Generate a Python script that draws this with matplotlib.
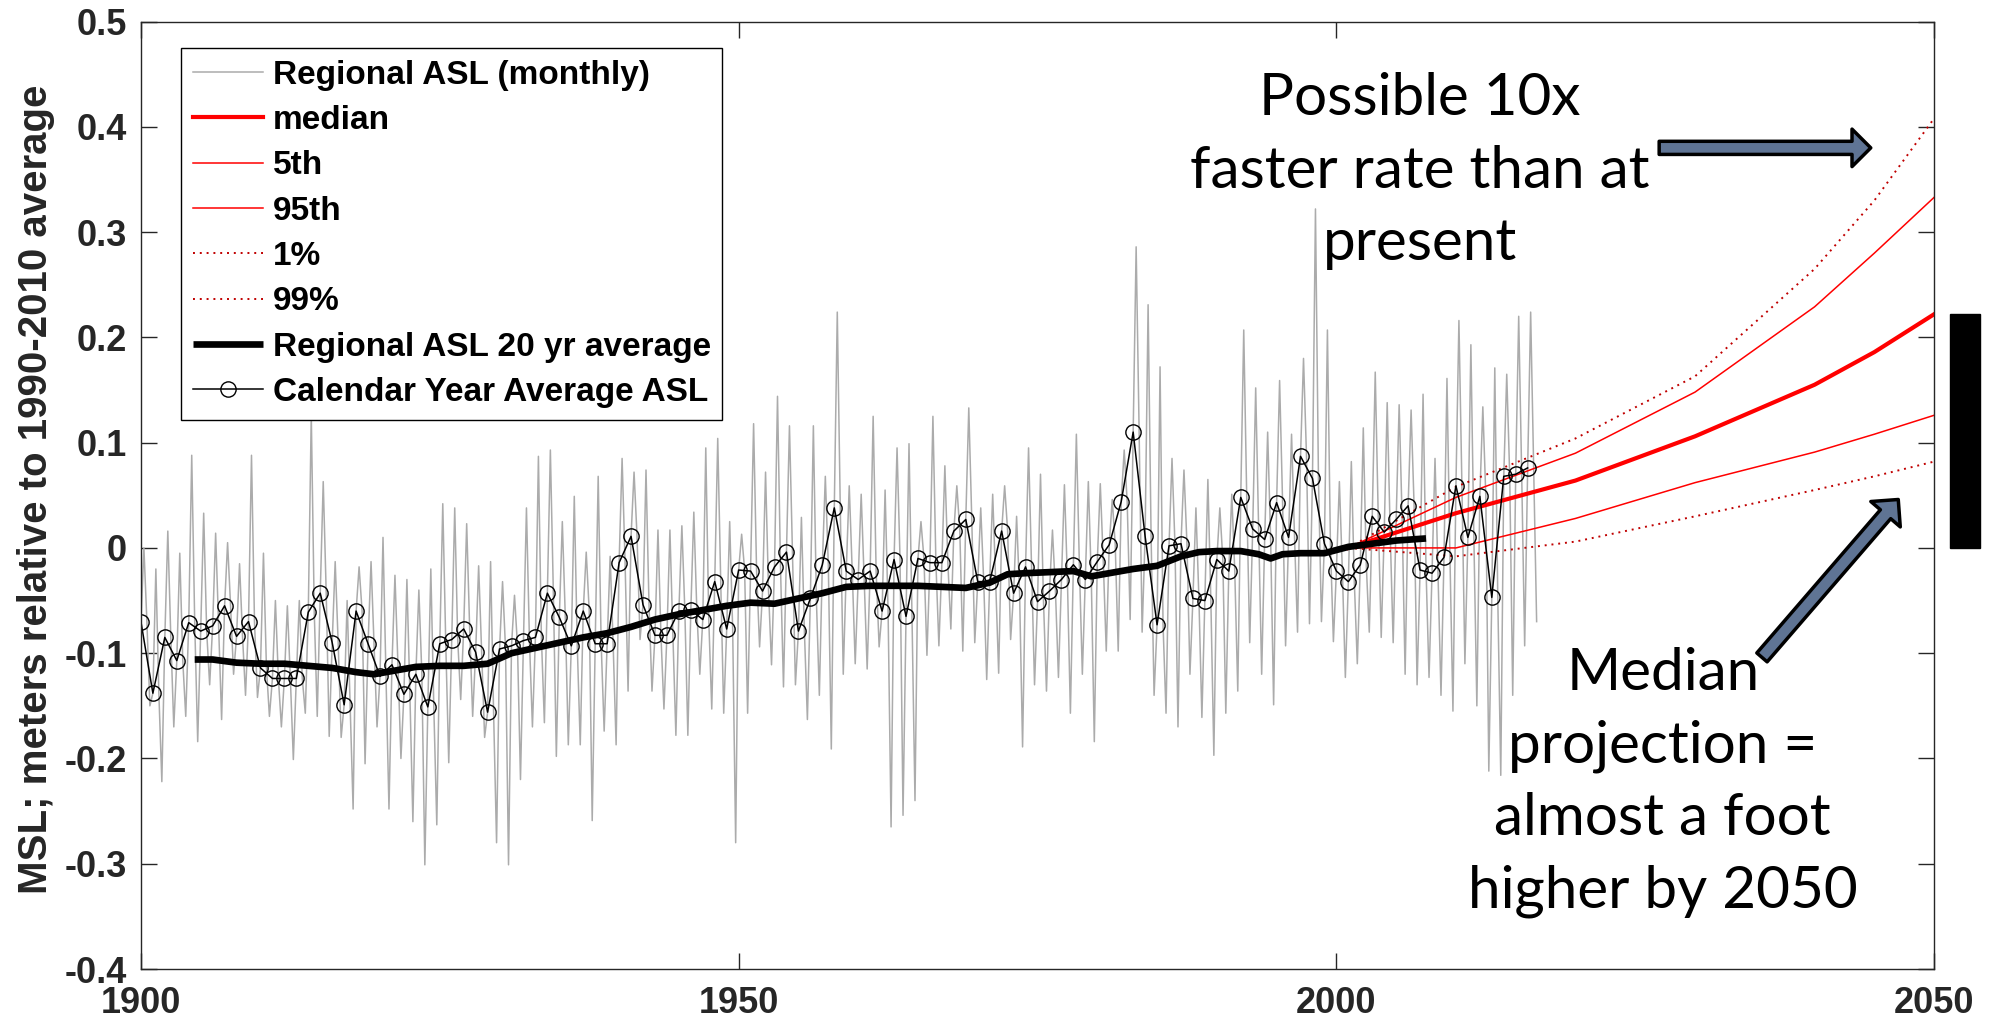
import numpy as np
import matplotlib
matplotlib.use('Agg')
from matplotlib import pyplot as plt
from matplotlib.patches import FancyArrowPatch, Rectangle, ArrowStyle

# calendar-year average sea level (m, relative to 1990-2010 average)
annual_years = list(range(1900, 2017))
annual_asl = [
    -0.070, -0.138, -0.085, -0.107, -0.071, -0.079, -0.074, -0.055, -0.084, -0.070,
    -0.114, -0.124, -0.124, -0.124, -0.061, -0.043, -0.090, -0.149, -0.060, -0.091,
    -0.122, -0.111, -0.139, -0.120, -0.151, -0.091, -0.087, -0.077, -0.099, -0.156,
    -0.096, -0.093, -0.088, -0.085, -0.043, -0.066, -0.093, -0.060, -0.091, -0.091,
    -0.014, 0.011, -0.054, -0.083, -0.083, -0.060, -0.059, -0.068, -0.032, -0.077,
    -0.021, -0.022, -0.041, -0.018, -0.004, -0.079, -0.048, -0.016, 0.038, -0.022,
    -0.030, -0.022, -0.060, -0.011, -0.065, -0.010, -0.014, -0.014, 0.016, 0.027,
    -0.032, -0.032, 0.016, -0.043, -0.018, -0.051, -0.041, -0.030, -0.016, -0.030,
    -0.013, 0.003, 0.044, 0.110, 0.011, -0.073, 0.002, 0.004, -0.048, -0.050,
    -0.011, -0.022, 0.048, 0.018, 0.008, 0.043, 0.010, 0.087, 0.066, 0.004,
    -0.022, -0.032, -0.016, 0.030, 0.015, 0.027, 0.040, -0.021, -0.024, -0.009,
    0.059, 0.010, 0.049, -0.047, 0.068, 0.070, 0.076]

# highest / lowest monthly value in each calendar year
monthly_high = [
    0.000, -0.020, 0.016, -0.005, 0.088, 0.033, 0.014, 0.005, -0.015, 0.088,
    -0.005, -0.050, -0.055, -0.050, 0.127, 0.063, -0.013, -0.050, -0.018, -0.013,
    0.010, -0.026, -0.030, -0.040, -0.020, 0.042, 0.038, 0.023, -0.017, -0.013,
    -0.032, -0.045, 0.038, 0.087, 0.093, 0.025, 0.049, -0.004, 0.068, -0.008,
    0.085, 0.072, 0.074, 0.017, 0.017, 0.021, 0.034, 0.095, 0.104, 0.025,
    0.013, 0.118, 0.072, 0.144, 0.116, 0.029, 0.116, 0.068, 0.224, 0.059,
    0.051, 0.125, 0.055, 0.095, 0.099, 0.025, 0.125, 0.078, 0.059, 0.133,
    0.038, 0.051, 0.059, 0.030, 0.095, 0.070, 0.017, 0.060, 0.108, 0.063,
    0.061, 0.046, 0.093, 0.286, 0.231, 0.172, 0.085, 0.074, 0.038, 0.065,
    0.038, 0.051, 0.207, 0.152, 0.110, 0.159, 0.108, 0.180, 0.322, 0.207,
    0.063, 0.082, 0.114, 0.167, 0.138, 0.136, 0.131, 0.146, 0.085, 0.161,
    0.216, 0.193, 0.134, 0.171, 0.165, 0.220, 0.224]
monthly_low = [
    -0.150, -0.222, -0.170, -0.160, -0.184, -0.130, -0.163, -0.120, -0.140, -0.142,
    -0.160, -0.170, -0.201, -0.157, -0.160, -0.179, -0.180, -0.248, -0.205, -0.170,
    -0.248, -0.200, -0.260, -0.301, -0.263, -0.204, -0.144, -0.160, -0.180, -0.280,
    -0.301, -0.220, -0.170, -0.166, -0.198, -0.187, -0.187, -0.259, -0.174, -0.187,
    -0.136, -0.087, -0.136, -0.153, -0.178, -0.178, -0.120, -0.153, -0.157, -0.280,
    -0.157, -0.094, -0.111, -0.132, -0.130, -0.163, -0.140, -0.191, -0.120, -0.110,
    -0.115, -0.094, -0.265, -0.254, -0.240, -0.102, -0.093, -0.077, -0.098, -0.090,
    -0.125, -0.119, -0.087, -0.189, -0.130, -0.136, -0.123, -0.157, -0.120, -0.184,
    -0.098, -0.098, -0.068, -0.080, -0.140, -0.157, -0.170, -0.120, -0.161, -0.197,
    -0.157, -0.136, -0.090, -0.120, -0.149, -0.093, -0.080, -0.072, -0.070, -0.089,
    -0.123, -0.110, -0.080, -0.085, -0.090, -0.120, -0.130, -0.123, -0.140, -0.155,
    -0.110, -0.150, -0.212, -0.216, -0.140, -0.093, -0.070]

# 20 yr running average
avg20_years = [1904.5, 1906, 1908, 1910, 1912, 1914, 1916, 1918, 1919.5, 1921,
               1923, 1925, 1927, 1929, 1931, 1933, 1935, 1937, 1939, 1941,
               1943, 1945, 1947, 1949, 1951, 1953, 1955, 1957, 1959, 1961,
               1963, 1965, 1967, 1969, 1971, 1972.5, 1974, 1976, 1978, 1979.5,
               1981, 1983, 1985, 1987, 1988.5, 1990, 1992, 1993.5, 1994.5, 1995.5,
               1997, 1999, 2001, 2003, 2005, 2007.5]
avg20_asl = [-0.106, -0.106, -0.109, -0.110, -0.110, -0.112, -0.114, -0.118, -0.120, -0.117,
             -0.113, -0.112, -0.112, -0.110, -0.100, -0.095, -0.090, -0.085, -0.081, -0.075,
             -0.068, -0.063, -0.059, -0.055, -0.052, -0.053, -0.048, -0.043, -0.037, -0.036,
             -0.036, -0.036, -0.037, -0.038, -0.033, -0.025, -0.024, -0.023, -0.022, -0.027,
             -0.024, -0.020, -0.017, -0.008, -0.004, -0.003, -0.003, -0.006, -0.010, -0.006,
             -0.005, -0.005, 0.001, 0.004, 0.007, 0.009]

# projected sea level percentiles
proj_years = [2001, 2010, 2020, 2030, 2040, 2045, 2050]
proj_median = [0.000, 0.033, 0.064, 0.106, 0.155, 0.186, 0.222]
proj_p05 = [0.000, 0.000, 0.028, 0.062, 0.091, 0.108, 0.126]
proj_p95 = [0.000, 0.048, 0.090, 0.148, 0.229, 0.280, 0.333]
proj_p01 = [0.000, -0.008, 0.006, 0.030, 0.055, 0.068, 0.082]
proj_p99 = [0.000, 0.058, 0.104, 0.163, 0.265, 0.330, 0.408]

xticks = [1900, 1950, 2000, 2050]
yticks = [-0.4, -0.3, -0.2, -0.1, 0, 0.1, 0.2, 0.3, 0.4, 0.5]
ytick_labels = ['-0.4', '-0.3', '-0.2', '-0.1', '0', '0.1', '0.2', '0.3', '0.4', '0.5']

plt.rcParams['font.family'] = 'Liberation Sans'

fig = plt.figure(figsize=(19.96, 10.25), dpi=100)
ax = fig.add_axes([0.0706, 0.0546, 0.8984, 0.9244])

# monthly trace: each year swings from the annual level to its high and low
t_month = []
v_month = []
for y, a, hi, lo in zip(annual_years, annual_asl, monthly_high, monthly_low):
    t_month += [y, y + 0.25, y + 0.5, y + 0.75]
    v_month += [a, hi, a, lo]
ax.plot(t_month, v_month, color='#ababab', lw=1.1, label='Regional ASL (monthly)')

ax.plot(proj_years, proj_median, color='red', lw=3.0, label='median')
ax.plot(proj_years, proj_p05, color='red', lw=1.1, label='5th')
ax.plot(proj_years, proj_p95, color='red', lw=1.1, label='95th')
ax.plot(proj_years, proj_p01, color='#c00000', lw=1.4, ls=(0, (1, 2.5)), label='1%')
ax.plot(proj_years, proj_p99, color='#c00000', lw=1.4, ls=(0, (1, 2.5)), label='99%')

ax.plot(avg20_years, avg20_asl, color='black', lw=4.8, solid_capstyle='butt',
        label='Regional ASL 20 yr average')
ax.plot(annual_years, annual_asl, color='black', lw=1.1, marker='o', ms=11,
        mfc='none', mec='black', mew=1.0, label='Calendar Year Average ASL')

ax.set_xlim(1900, 2050)
ax.set_ylim(-0.4, 0.5)
ax.set_xticks(xticks)
ax.set_xticklabels([str(x) for x in xticks], fontsize=26, fontweight='bold')
ax.set_yticks(yticks)
ax.set_yticklabels(ytick_labels, fontsize=26, fontweight='bold')
ax.tick_params(direction='in', length=11.5, width=1.0, top=True, right=True,
               color='#262626', labelcolor='#262626')
ax.tick_params(axis='y', pad=10)
ax.tick_params(axis='x', pad=12)
for sp in ax.spines.values():
    sp.set_color('#262626')
    sp.set_linewidth(1.0)

ax.set_ylabel('MSL; meters relative to 1990-2010 average', fontsize=29,
              fontweight='bold', color='#262626')
ax.yaxis.set_label_coords(-0.0477, 0.506)

leg = ax.legend(loc='upper left', bbox_to_anchor=(0.0223, 0.972), borderaxespad=0,
                fancybox=False, edgecolor='black', framealpha=1,
                prop={'weight': 'bold', 'size': 24}, handlelength=2.1,
                handletextpad=0.3, labelspacing=0.43, borderpad=0.35)
leg.get_frame().set_linewidth(1.0)

# callouts
ax.text(2007.0, 0.358, 'Possible 10x\nfaster rate than at\npresent', ha='center',
        va='center', fontsize=42, family='Lato', linespacing=1.45, clip_on=False)
ax.text(2027.3, -0.223, 'Median\nprojection =\nalmost a foot\nhigher by 2050',
        ha='center', va='center', fontsize=42, family='Lato', linespacing=1.45,
        clip_on=False)

arrow_style = ArrowStyle('simple', head_length=0.5, head_width=1.0, tail_width=0.35)
ax.add_patch(FancyArrowPatch((2027.0, 0.380), (2044.7, 0.380), arrowstyle=arrow_style,
                             mutation_scale=27, fc='#5f7494', ec='black', lw=2.5,
                             shrinkA=0, shrinkB=0, clip_on=False, zorder=5))
ax.add_patch(FancyArrowPatch((2035.6, -0.104), (2047.0, 0.046), arrowstyle=arrow_style,
                             mutation_scale=28, fc='#5f7494', ec='black', lw=2.5,
                             shrinkA=0, shrinkB=0, clip_on=False, zorder=5))

# bar showing the median rise by 2050
ax.add_patch(Rectangle((2051.3, 0.0), 2.5, proj_median[-1], color='black',
                       clip_on=False, zorder=5))

fig.savefig('out.png', dpi=100)
